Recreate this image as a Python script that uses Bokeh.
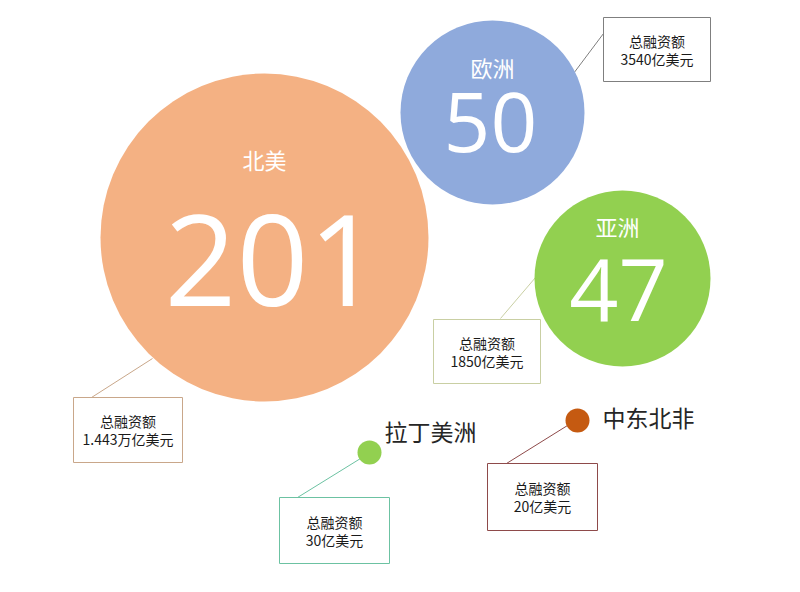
from bokeh.plotting import figure
from bokeh.models import Range1d, ColumnDataSource
from bokeh.core.properties import value
from bokeh.embed import file_html
from bokeh.resources import INLINE

# ---- data ----
regions = ["北美", "欧洲", "亚洲", "拉丁美洲", "中东北非"]
deal_counts = ["201", "50", "47", "", ""]
funding_title = ["总融资额"] * 5
funding_amount = ["1.443万亿美元", "3540亿美元", "1850亿美元", "30亿美元", "20亿美元"]

# ---- layout (reference pixel coordinates) ----
colors = ["#F4B183", "#8FAADC", "#92D050", "#92D050", "#C55A11"]
box_colors = ["#C9A78A", "#7F7F7F", "#C9CFA3", "#6CC2A2", "#8E4A4A"]
cx = [264, 492, 622, 369, 577]
cy = [237, 112, 278, 452, 420]
rad = [164, 92, 88, 12, 12]
# region label positions
lx = [264, 492, 617, 430, 648]
ly = [158, 66, 225, 430, 416]
lsize = ["22px", "22px", "22px", "23px", "23px"]
lcolor = ["white", "white", "white", "#262626", "#262626"]
# big number centre positions & sizes
nx = [272, 490, 618]
ny = [260, 122, 289]
nsize = ["126px", "82px", "86px"]
# boxes (left, top, right, bottom)
bl = [73, 603, 433, 279, 487]
bt = [397, 17, 319, 497, 463]
br = [182, 710, 540, 389, 597]
bb = [462, 81, 383, 563, 530]
# connector lines
x0 = [91, 603, 500, 297, 506]
y0 = [397, 33, 318, 497, 463]
x1 = [152, 573, 535, 360, 567]
y1 = [358, 73, 277, 458, 425]

W, H = 784, 576
p = figure(width=W, height=H, x_range=Range1d(0, W), y_range=Range1d(H, 0),
           output_backend="svg", toolbar_location=None, min_border=0)
p.axis.visible = False
p.grid.visible = False
p.outline_line_color = None
p.background_fill_color = "white"

# connectors
p.segment(x0=x0, y0=y0, x1=x1, y1=y1, line_color=box_colors, line_width=1)

# circles
p.circle(x=cx, y=cy, radius=rad, fill_color=colors, line_color=None)

# region labels
for i in range(5):
    p.text(x=[lx[i]], y=[ly[i]], text=[regions[i]], text_align="center", text_baseline="middle",
           text_font=value("Noto Sans CJK SC"), text_font_size=lsize[i], text_color=lcolor[i])

# big numbers
for i in range(3):
    p.text(x=[nx[i]], y=[ny[i]], text=[deal_counts[i]], text_align="center", text_baseline="middle",
           text_font=value("Open Sans"), text_font_size=nsize[i], text_color="white")

# boxes
bsrc = ColumnDataSource(dict(left=bl, right=br, top=bt, bottom=bb, lc=box_colors))
p.quad(left="left", right="right", top="top", bottom="bottom", source=bsrc,
       fill_color="white", line_color="lc", line_width=1)

bxc = [(a + b) / 2 for a, b in zip(bl, br)]
byc = [(a + b) / 2 for a, b in zip(bt, bb)]
p.text(x=bxc, y=[y - 9 for y in byc], text=funding_title, text_align="center", text_baseline="middle",
       text_font=value("Noto Sans CJK SC"), text_font_size="14px", text_color="#1a1a1a")
p.text(x=bxc, y=[y + 9 for y in byc], text=funding_amount, text_align="center", text_baseline="middle",
       text_font=value("Noto Sans CJK SC"), text_font_size="14px", text_color="#1a1a1a")

open("out.html", "w").write(file_html(p, INLINE))
